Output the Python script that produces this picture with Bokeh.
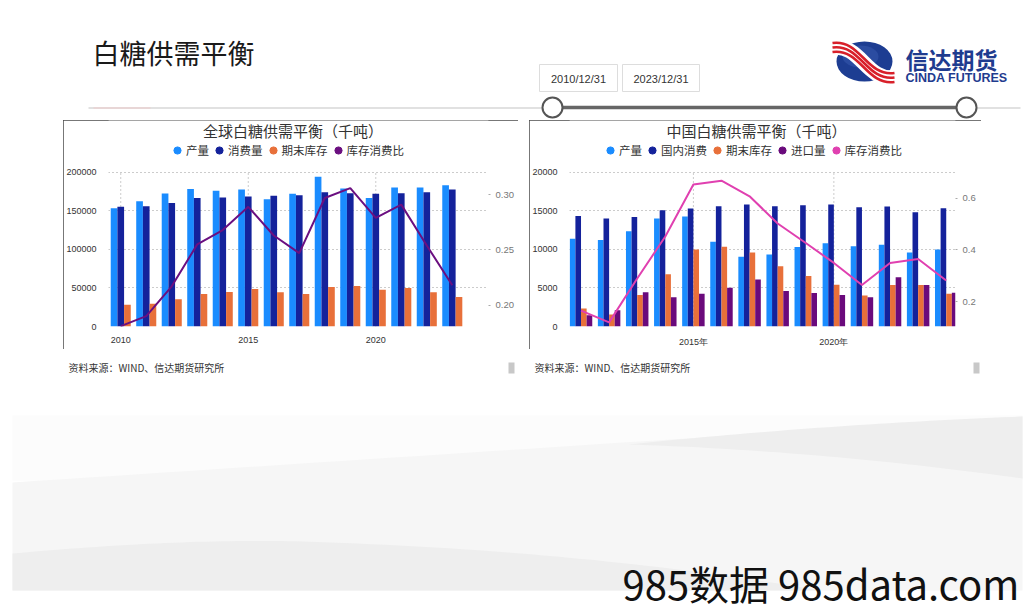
import numpy as np
from bokeh.plotting import figure
from bokeh.models import (Range1d, LinearAxis, FixedTicker, NumeralTickFormatter, Legend,
                          LegendItem, ColumnDataSource, Spacer, InlineStyleSheet, Label)
from bokeh.layouts import column, row
from bokeh.transform import dodge
from bokeh.core.properties import value
from bokeh.embed import file_html
from bokeh.resources import INLINE

# ---------------- data ----------------
g_years = [2010, 2011, 2012, 2013, 2014, 2015, 2016, 2017, 2018, 2019, 2020, 2021, 2022, 2023]
g_prod = [153200, 162100, 172300, 177900, 175700, 177400, 164700, 171900, 194000, 178700, 166400, 180000, 180000, 183000]
g_cons = [155000, 155700, 160000, 166400, 167200, 168500, 169300, 169800, 174000, 172700, 171900, 172700, 174000, 177400]
g_stock = [28100, 29400, 35300, 42100, 44700, 48500, 44300, 42100, 51100, 52300, 47700, 49800, 44300, 38300]
g_ratio = [0.181, 0.190, 0.217, 0.255, 0.268, 0.289, 0.263, 0.247, 0.297, 0.306, 0.279, 0.291, 0.254, 0.218]
g_labels = ["产量", "消费量", "期末库存", "库存消费比"]
g_yticks = [0, 50000, 100000, 150000, 200000]
g_rticks = [0.20, 0.25, 0.30]
g_xticks = [2010, 2015, 2020]
g_xlabels = ["2010", "2015", "2020"]

c_years = [2011, 2012, 2013, 2014, 2015, 2016, 2017, 2018, 2019, 2020, 2021, 2022, 2023, 2024]
c_prod = [11360, 11190, 12340, 14000, 14250, 10980, 9020, 9320, 10300, 10765, 10380, 10595, 9570, 9960]
c_cons = [14300, 14000, 14170, 15060, 15275, 15570, 15790, 15570, 15700, 15790, 15450, 15530, 14800, 15320]
c_stock = [2340, 1570, 4085, 6770, 9960, 10340, 9570, 7790, 6550, 5400, 4000, 5360, 5360, 4255]
c_import = [1450, 2100, 4425, 3790, 4255, 5020, 6085, 4595, 4340, 4085, 3790, 6380, 5360, 4380]
c_ratio = [0.166, 0.121, 0.290, 0.452, 0.652, 0.667, 0.607, 0.502, 0.427, 0.350, 0.265, 0.350, 0.365, 0.282]
c_labels = ["产量", "国内消费", "期末库存", "进口量", "库存消费比"]
c_yticks = [0, 5000, 10000, 15000, 20000]
c_rticks = [0.2, 0.4, 0.6]
c_xticks = [2015, 2020]
c_xlabels = ["2015年", "2020年"]

C_PROD = "#1a8cff"
C_CONS = "#14229b"
C_STOCK = "#e8703a"
C_IMPORT = "#6a0a7c"
C_RATIO_G = "#6b0f80"
C_RATIO_C = "#e040b0"

CJK = "Noto Sans CJK SC"
LAT = "Liberation Sans"

box_css = InlineStyleSheet(css=":host { outline: 1px solid #4a4a4a; outline-offset: -1px; }")

CH_H = 229          # chart canvas height
FR_H = 209          # frame height (canvas minus bottom axis band)
PLOT_H = 156.7      # pixels from 0 to top tick


def make_chart(width, mb_left, mb_right, x_range, years, series, colors, bw,
               ratio, ratio_color, r_lo, r_hi, r_ticks, r_fmt,
               y_ticks, x_ticks, x_labels, labels, title, title_px, legend_x):
    y_top = y_ticks[-1] * FR_H / PLOT_H
    p = figure(width=width, height=CH_H, x_range=x_range, y_range=Range1d(0, y_top),
               output_backend="svg", toolbar_location=None,
               min_border_left=mb_left, min_border_right=mb_right,
               min_border_top=0, min_border_bottom=CH_H - FR_H)
    p.extra_y_ranges = {"ratio": Range1d(r_lo, r_hi)}
    data = dict(year=years, ratio=ratio)
    keys = []
    for i, s in enumerate(series):
        data["s%d" % i] = s
        keys.append("s%d" % i)
    src = ColumnDataSource(data)
    n = len(series)
    for i, (k, c) in enumerate(zip(keys, colors)):
        off = (i - (n - 1) / 2) * bw
        p.vbar(x=dodge("year", off, range=p.x_range), top=k, width=bw, source=src,
               fill_color=c, line_color=None)
    p.line(x="year", y="ratio", y_range_name="ratio", source=src,
           line_color=ratio_color, line_width=2)

    # styling
    p.outline_line_color = None
    p.background_fill_color = "white"
    p.border_fill_color = "white"
    p.xaxis.ticker = FixedTicker(ticks=x_ticks)
    p.xaxis.major_label_overrides = {t: l for t, l in zip(x_ticks, x_labels)}
    p.yaxis.ticker = FixedTicker(ticks=y_ticks)
    p.yaxis.formatter = NumeralTickFormatter(format="0")
    p.xgrid.visible = False
    p.ygrid.ticker = FixedTicker(ticks=y_ticks)
    p.ygrid.grid_line_dash = "1 3"
    p.ygrid.grid_line_color = "#999999"
    # vertical dotted grid lines only between 0 and the top tick
    p.segment(x0=x_ticks, x1=x_ticks, y0=[y_ticks[0]] * len(x_ticks), y1=[y_ticks[-1]] * len(x_ticks),
              line_color="#999999", line_dash="1 3", line_width=1, level="underlay")
    for ax in (p.xaxis, p.yaxis):
        ax.axis_line_color = None
        ax.major_tick_line_color = None
        ax.minor_tick_line_color = None
        ax.major_label_text_font = LAT
        ax.major_label_text_font_size = "9px"
        ax.major_label_text_color = "#333333"
    p.xaxis.major_label_standoff = 4
    p.yaxis.major_label_standoff = 6
    p.stylesheets = [box_css]

    rax = LinearAxis(y_range_name="ratio", ticker=FixedTicker(ticks=r_ticks),
                     formatter=NumeralTickFormatter(format=r_fmt))
    rax.axis_line_color = None
    rax.minor_tick_line_color = None
    rax.major_tick_in = 0
    rax.major_tick_out = 2
    rax.major_tick_line_color = "#aaaaaa"
    rax.major_label_standoff = 5
    rax.major_label_text_font = LAT
    rax.major_label_text_font_size = "9.5px"
    rax.major_label_text_color = "#777777"
    p.add_layout(rax, "right")

    # title placed in the band above the plotting area
    frame_w = width - mb_left - mb_right
    ppu = frame_w / (x_range.end - x_range.start)
    tx = x_range.start + (title_px - mb_left) / ppu
    ty = y_ticks[-1] * (FR_H - 10) / PLOT_H
    p.add_layout(Label(x=tx, y=ty, text=title, text_align="center", text_baseline="middle",
                       text_font=CJK, text_font_size="15px", text_color="#333333"))

    items = []
    for lab, col in zip(labels, colors + [ratio_color]):
        d = p.scatter(x=[float("nan")], y=[float("nan")], marker="circle", size=8,
                      fill_color=col, line_color=col)
        items.append(LegendItem(label=lab, renderers=[d]))
    leg = Legend(items=items, orientation="horizontal", location=(legend_x, 166),
                 glyph_width=18, glyph_height=20, label_height=20, label_standoff=0,
                 spacing=1, padding=0, margin=0, border_line_color=None,
                 background_fill_alpha=0, label_text_font=CJK, label_text_font_size="11.5px",
                 label_text_color="#333333")
    p.add_layout(leg)
    return p


pl = make_chart(455, 40, 30, Range1d(2009.52, 2024.42), g_years, [g_prod, g_cons, g_stock],
                [C_PROD, C_CONS, C_STOCK], 0.262, g_ratio, C_RATIO_G, 0.1806, 0.3672,
                g_rticks, "0.00", g_yticks, g_xticks, g_xlabels, g_labels,
                "全球白糖供需平衡（千吨）", 227, 60)
pr = make_chart(452, 36, 26, Range1d(2010.59, 2024.33), c_years, [c_prod, c_cons, c_stock, c_import],
                [C_PROD, C_CONS, C_STOCK, C_IMPORT], 0.2, c_ratio, C_RATIO_C, 0.105, 0.899,
                c_rticks, "0.0", c_yticks, c_xticks, c_xlabels, c_labels,
                "中国白糖供需平衡（千吨）", 225, 32)


# ---------------- header ----------------
def deco_fig(h, y0, y1):
    f = figure(width=1032, height=h, x_range=Range1d(0, 1032), y_range=Range1d(y1, y0),
               output_backend="svg", toolbar_location=None, min_border=0,
               x_axis_location=None, y_axis_location=None)
    f.grid.visible = False
    f.outline_line_color = None
    f.background_fill_color = "white"
    f.border_fill_color = "white"
    return f


hd = deco_fig(120, 0, 120)
hd.text(x=[92], y=[52], text=["白糖供需平衡"], text_font=value(CJK), text_font_size="27px",
        text_baseline="middle", text_align="left", text_color="#1a1a1a")
hd.line(x=[88, 1020], y=[107.5, 107.5], line_color="#c4c4c4", line_width=1.2)
hd.line(x=[93, 150], y=[107.5, 107.5], line_color="#f0cccc", line_width=1.2)
hd.quad(left=[539, 622], right=[617, 699], top=[64, 64], bottom=[91, 91],
        fill_color="white", line_color="#dddddd", line_width=1)
hd.text(x=[578, 660.5], y=[78, 78], text=["2010/12/31", "2023/12/31"], text_font=value(LAT),
        text_font_size="11px", text_baseline="middle", text_align="center", text_color="#333333")
hd.line(x=[552, 966], y=[107, 107], line_color="#666666", line_width=3.5)
hd.scatter(x=[552, 966], y=[107, 107], marker="circle", size=20, fill_color="white",
           line_color="#555555", line_width=2)
# logo
hd.ellipse(x=[864], y=[61], width=56, height=40, fill_color="#1d3d92", line_color=None)
hd.ellipse(x=[860], y=[56], width=36, height=22, fill_color="#3a5cb0", line_color=None, fill_alpha=0.5)
hd.bezier(x0=[832], y0=[47], x1=[894], y1=[77], cx0=[860], cy0=[43], cx1=[866], cy1=[81],
          line_color="white", line_width=15)
for dy in (-4.5, 0, 4.5):
    hd.bezier(x0=[832], y0=[47 + dy], x1=[894], y1=[77 + dy], cx0=[860], cy0=[43 + dy],
              cx1=[866], cy1=[81 + dy], line_color="#d8202a", line_width=2.6)
hd.text(x=[905], y=[58], text=["信达期货"], text_font=value(CJK), text_font_size="23px",
        text_font_style="bold", text_baseline="middle", text_align="left", text_color="#1f3c8f")
hd.text(x=[905], y=[77], text=["CINDA FUTURES"], text_font=value(LAT), text_font_size="12.5px",
        text_font_style="bold", text_baseline="middle", text_align="left", text_color="#1f3c8f")

# ---------------- footer ----------------
ft = deco_fig(263, 349, 612)


def qcurve(p0, p1, p2, n=40):
    t = np.linspace(0, 1, n)
    x = (1 - t) ** 2 * p0[0] + 2 * (1 - t) * t * p1[0] + t ** 2 * p2[0]
    y = (1 - t) ** 2 * p0[1] + 2 * (1 - t) * t * p1[1] + t ** 2 * p2[1]
    return list(x), list(y)


ft.quad(left=[12], right=[1022], top=[415], bottom=[480], fill_color="#fcfcfc", line_color=None)
tx_, ty_ = qcurve((12, 482), (500, 450), (1022, 416))
ft.patch(x=tx_ + [1022, 12], y=ty_ + [590, 590], fill_color="#f6f6f6", line_color=None)
bx, by = qcurve((1022, 478), (820, 450), (628, 444))
ax_, ay_ = qcurve((628, 444), (820, 424), (1022, 416))
ft.patch(x=ax_ + bx, y=ay_ + by, fill_color="#eeeeee", line_color=None)
lx1, ly1 = qcurve((12, 553), (200, 536), (330, 542))
lx2, ly2 = qcurve((330, 542), (600, 552), (820, 590))
ft.patch(x=lx1 + lx2 + [12], y=ly1 + ly2 + [590], fill_color="#eeeeee", line_color=None)
ft.text(x=[68, 534], y=[367, 367], text=["资料来源：WIND、信达期货研究所"] * 2, text_font=value(CJK),
        text_font_size="10px", text_baseline="middle", text_align="left", text_color="#333333")
ft.quad(left=[508, 973], right=[514, 979], top=[362, 362], bottom=[373, 373],
        fill_color="#c8c8c8", line_color=None)
ft.text(x=[622], y=[582], text=["985数据 985data.com"], text_font=value(CJK), text_font_size="40px",
        text_baseline="middle", text_align="left", text_color="#111111")

layout = column(
    hd,
    row(Spacer(width=63, height=CH_H), pl, Spacer(width=11, height=CH_H), pr, Spacer(width=51, height=CH_H)),
    ft,
)

open("out.html", "w").write(file_html(layout, INLINE))
